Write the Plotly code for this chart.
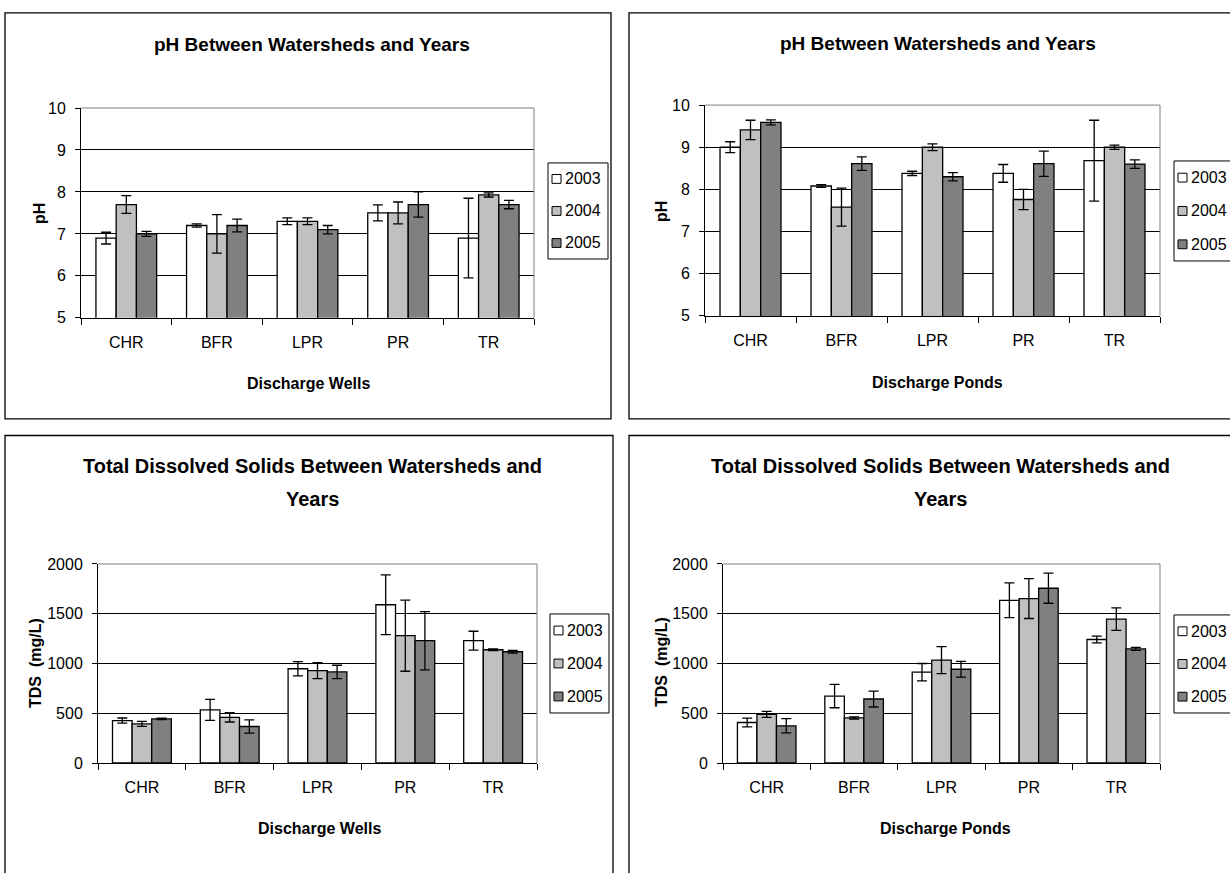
import plotly.graph_objects as go

W, H = 1230, 873

sites = ["CHR", "BFR", "LPR", "PR", "TR"]
years = ["2003", "2004", "2005"]
year_fill = ["#FFFFFF", "#C0C0C0", "#808080"]

# pH, discharge wells (mean and error per year)
ph_wells_2003 = [6.9, 7.2, 7.3, 7.5, 6.9]
ph_wells_2004 = [7.7, 7.0, 7.3, 7.5, 7.93]
ph_wells_2005 = [7.0, 7.2, 7.1, 7.7, 7.7]
ph_wells_err_2003 = [0.14, 0.04, 0.08, 0.19, 0.95]
ph_wells_err_2004 = [0.21, 0.46, 0.08, 0.26, 0.05]
ph_wells_err_2005 = [0.06, 0.15, 0.10, 0.30, 0.10]

# pH, discharge ponds
ph_ponds_2003 = [9.0, 8.08, 8.38, 8.38, 8.68]
ph_ponds_2004 = [9.41, 7.58, 9.0, 7.76, 9.0]
ph_ponds_2005 = [9.59, 8.61, 8.3, 8.61, 8.6]
ph_ponds_err_2003 = [0.13, 0.03, 0.05, 0.21, 0.96]
ph_ponds_err_2004 = [0.23, 0.45, 0.08, 0.24, 0.05]
ph_ponds_err_2005 = [0.06, 0.16, 0.10, 0.30, 0.10]

# TDS (mg/L), discharge wells
tds_wells_2003 = [426, 534, 947, 1590, 1229]
tds_wells_2004 = [393, 459, 928, 1279, 1138]
tds_wells_2005 = [443, 367, 915, 1229, 1118]
tds_wells_err_2003 = [26, 105, 72, 300, 95]
tds_wells_err_2004 = [25, 47, 80, 357, 8]
tds_wells_err_2005 = [7, 66, 67, 293, 13]

# TDS (mg/L), discharge ponds
tds_ponds_2003 = [407, 673, 913, 1635, 1241]
tds_ponds_2004 = [489, 453, 1034, 1652, 1445]
tds_ponds_2005 = [374, 643, 942, 1756, 1146]
tds_ponds_err_2003 = [43, 118, 87, 174, 33]
tds_ponds_err_2004 = [30, 11, 135, 200, 113]
tds_ponds_err_2005 = [71, 80, 79, 151, 15]

FONT = "Liberation Sans, Arial, sans-serif"


def px(x):
    return x / W


def py(y):
    return 1 - y / H


panels = [
    dict(ax="", means=[ph_wells_2003, ph_wells_2004, ph_wells_2005],
         errs=[ph_wells_err_2003, ph_wells_err_2004, ph_wells_err_2005],
         plot=(81, 534, 102, 316), yrange=[5, 10], dtick=1,
         title=["pH Between Watersheds and Years"], title_xy=(312, 37), title_size=19,
         ytitle="pH", ytitle_xy=(40, 210), xtitle="Discharge Wells", xtitle_xy=(308, 383),
         frame=(5, 611, 5, 419), legend=(548, 608, 158, 256)),
    dict(ax="2", means=[ph_ponds_2003, ph_ponds_2004, ph_ponds_2005],
         errs=[ph_ponds_err_2003, ph_ponds_err_2004, ph_ponds_err_2005],
         plot=(705, 1160, 99, 314), yrange=[5, 10], dtick=1,
         title=["pH Between Watersheds and Years"], title_xy=(938, 36), title_size=19,
         ytitle="pH", ytitle_xy=(662, 208), xtitle="Discharge Ponds", xtitle_xy=(937, 382),
         frame=(629, 1240, 5, 419), legend=(1174, 1240, 156, 258)),
    dict(ax="3", means=[tds_wells_2003, tds_wells_2004, tds_wells_2005],
         errs=[tds_wells_err_2003, tds_wells_err_2004, tds_wells_err_2005],
         plot=(98, 537, 567, 770), yrange=[0, 2000], dtick=500,
         title=["Total Dissolved Solids Between Watersheds and", "Years"],
         title_xy=(312, 467), title_size=20,
         ytitle="TDS  (mg/L)", ytitle_xy=(36, 668), xtitle="Discharge Wells", xtitle_xy=(319, 837),
         frame=(5, 613, 436, 890), legend=(550, 609, 618, 719)),
    dict(ax="4", means=[tds_ponds_2003, tds_ponds_2004, tds_ponds_2005],
         errs=[tds_ponds_err_2003, tds_ponds_err_2004, tds_ponds_err_2005],
         plot=(723, 1160, 567, 770), yrange=[0, 2000], dtick=500,
         title=["Total Dissolved Solids Between Watersheds and", "Years"],
         title_xy=(940, 467), title_size=20,
         ytitle="TDS  (mg/L)", ytitle_xy=(661, 667), xtitle="Discharge Ponds", xtitle_xy=(945, 837),
         frame=(629, 1240, 436, 890), legend=(1174, 1240, 619, 719)),
]

fig = go.Figure()
shapes = []
annotations = []
layout_axes = {}

for p in panels:
    ax = p["ax"]
    xref, yref = "x" + ax, "y" + ax
    for i, yr in enumerate(years):
        fig.add_trace(go.Bar(
            x=sites, y=p["means"][i], name=yr,
            xaxis=xref, yaxis=yref, showlegend=False,
            marker=dict(color=year_fill[i], line=dict(color="black", width=1.3)),
            error_y=dict(type="data", array=p["errs"][i], color="black",
                         thickness=1.3, width=5),
        ))

    x0, x1, y0, y1 = p["plot"]
    layout_axes["xaxis" + ax] = dict(
        domain=[px(x0), px(x1)], anchor=yref, type="category",
        showline=True, linecolor="black", linewidth=1,
        ticks="outside", tickson="boundaries", ticklen=6, tickcolor="black",
        showgrid=False, ticklabelstandoff=10,
        tickfont=dict(family=FONT, size=16, color="black"),
    )
    layout_axes["yaxis" + ax] = dict(
        domain=[py(y1), py(y0)], anchor=xref, range=p["yrange"], dtick=p["dtick"],
        showline=True, linecolor="black", linewidth=1,
        ticks="outside", ticklen=5, tickcolor="black",
        showgrid=True, gridcolor="black", gridwidth=1, zeroline=False,
        ticklabelstandoff=6,
        tickfont=dict(family=FONT, size=16, color="black"),
    )
    # plot-area outline: top and right edges in grey
    shapes.append(dict(type="line", xref="paper", yref="paper",
                       x0=px(x0), x1=px(x1), y0=py(y0), y1=py(y0), layer="above",
                       line=dict(color="#808080", width=1)))
    shapes.append(dict(type="line", xref="paper", yref="paper",
                       x0=px(x1), x1=px(x1), y0=py(y0), y1=py(y1), layer="above",
                       line=dict(color="#808080", width=1)))
    # chart frame
    fx0, fx1, fy0, fy1 = p["frame"]
    shapes.append(dict(type="rect", xref="paper", yref="paper",
                       x0=px(fx0), x1=px(fx1), y0=py(fy1), y1=py(fy0),
                       line=dict(color="black", width=1.3)))

    # chart title
    tx, ty = p["title_xy"]
    for k, line in enumerate(p["title"]):
        annotations.append(dict(text=line, x=px(tx), y=py(ty + 34 * k), xref="paper", yref="paper",
                                showarrow=False, xanchor="center", yanchor="middle",
                                font=dict(family=FONT, size=p["title_size"], color="black", weight="bold")))
    # axis titles
    annotations.append(dict(text=p["ytitle"], x=px(p["ytitle_xy"][0]), y=py(p["ytitle_xy"][1]),
                            xref="paper", yref="paper", showarrow=False, textangle=-90,
                            xanchor="center", yanchor="middle",
                            font=dict(family=FONT, size=16, color="black", weight="bold")))
    annotations.append(dict(text=p["xtitle"], x=px(p["xtitle_xy"][0]), y=py(p["xtitle_xy"][1]),
                            xref="paper", yref="paper", showarrow=False,
                            xanchor="center", yanchor="middle",
                            font=dict(family=FONT, size=16, color="black", weight="bold")))

    # legend box with one swatch per year
    lx0, lx1, ly0, ly1 = p["legend"]
    shapes.append(dict(type="rect", xref="paper", yref="paper",
                       x0=px(lx0), x1=px(lx1), y0=py(ly1), y1=py(ly0),
                       fillcolor="white", line=dict(color="black", width=1)))
    step = (ly1 - ly0) / 3
    for i, yr in enumerate(years):
        cy = ly0 + step * (i + 0.5)
        shapes.append(dict(type="rect", xref="paper", yref="paper",
                           x0=px(lx0 + 4), x1=px(lx0 + 13), y0=py(cy + 4.5), y1=py(cy - 4.5),
                           fillcolor=year_fill[i], line=dict(color="black", width=1)))
        annotations.append(dict(text=yr, x=px(lx0 + 15), y=py(cy), xref="paper", yref="paper",
                                showarrow=False, xanchor="left", yanchor="middle",
                                font=dict(family=FONT, size=16, color="black")))

fig.update_layout(
    width=W, height=H, margin=dict(l=0, r=0, t=0, b=0),
    paper_bgcolor="white", plot_bgcolor="white",
    barmode="group", bargap=0.33, bargroupgap=0,
    showlegend=False, shapes=shapes, annotations=annotations,
    **layout_axes,
)

fig.write_html("out.html")
